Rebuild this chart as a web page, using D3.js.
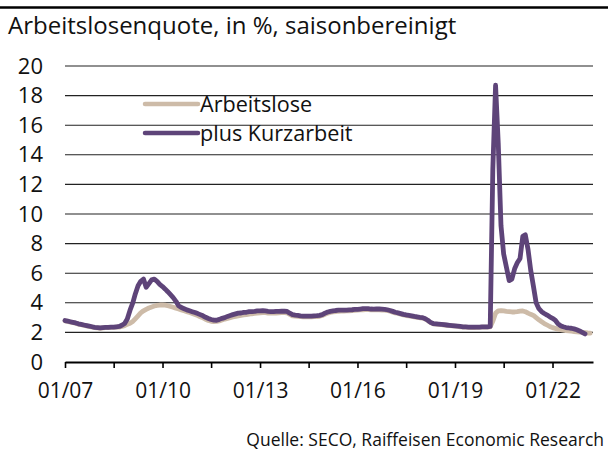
<!DOCTYPE html>
<html>
<head>
<meta charset="utf-8">
<script src="https://cdn.jsdelivr.net/npm/d3@7"></script>
<style>
  body { margin: 0; background: #fff; }
  svg { display: block; font-family: "Open Sans", "Noto Sans", sans-serif; }
</style>
</head>
<body>
<div id="chart"></div>
<script>
// monthly data, first value = Jan 2007
const startMonth = '2007-01';

const arbeitslose = [
  2.78, 2.74, 2.70, 2.66, 2.62, 2.56, 2.52, 2.48, 2.44, 2.40, 2.36, 2.32,
  2.30, 2.28, 2.30, 2.32, 2.32, 2.34, 2.34, 2.35, 2.36, 2.40, 2.46, 2.54,
  2.62, 2.74, 2.92, 3.12, 3.32, 3.46, 3.56, 3.65, 3.72, 3.78, 3.83, 3.85,
  3.86, 3.84, 3.80, 3.75, 3.70, 3.63, 3.58, 3.52, 3.46, 3.40, 3.34, 3.28,
  3.21, 3.14, 3.06, 2.98, 2.89, 2.80, 2.75, 2.73, 2.74, 2.78, 2.84, 2.90,
  2.95, 3.00, 3.04, 3.08, 3.12, 3.15, 3.18, 3.20, 3.23, 3.26, 3.28, 3.30,
  3.32, 3.34, 3.33, 3.31, 3.30, 3.30, 3.31, 3.32, 3.33, 3.33, 3.32, 3.22,
  3.12, 3.10, 3.08, 3.06, 3.05, 3.05, 3.05, 3.05, 3.06, 3.07, 3.09, 3.14,
  3.22, 3.30, 3.35, 3.38, 3.41, 3.43, 3.44, 3.44, 3.45, 3.46, 3.47, 3.49,
  3.50, 3.52, 3.53, 3.54, 3.54, 3.53, 3.52, 3.52, 3.52, 3.51, 3.50, 3.48,
  3.43, 3.37, 3.32, 3.28, 3.23, 3.18, 3.14, 3.11, 3.08, 3.05, 3.02, 2.99,
  2.97, 2.90, 2.80, 2.66, 2.58, 2.56, 2.54, 2.52, 2.50, 2.48, 2.46, 2.44,
  2.42, 2.40, 2.38, 2.36, 2.35, 2.34, 2.33, 2.33, 2.34, 2.34, 2.35, 2.36,
  2.36, 2.38, 2.75, 3.30, 3.45, 3.47, 3.45, 3.42, 3.40, 3.38, 3.38, 3.40,
  3.43, 3.45, 3.40, 3.30, 3.22, 3.15, 3.00, 2.85, 2.72, 2.60, 2.50, 2.40,
  2.32, 2.27, 2.22, 2.18, 2.15, 2.12, 2.10, 2.08, 2.06, 2.04, 2.02, 2.00,
  1.98, 1.96, 1.95
];

const plusKurzarbeit = [
  2.80, 2.76, 2.72, 2.68, 2.64, 2.58, 2.54, 2.50, 2.46, 2.42, 2.38, 2.34,
  2.32, 2.30, 2.32, 2.34, 2.34, 2.36, 2.36, 2.38, 2.40, 2.48, 2.60, 2.90,
  3.50, 4.00, 4.60, 5.15, 5.45, 5.60, 5.05, 5.30, 5.55, 5.60, 5.45, 5.25,
  5.10, 4.92, 4.75, 4.55, 4.35, 4.10, 3.80, 3.68, 3.60, 3.52, 3.46, 3.40,
  3.34, 3.27, 3.20, 3.12, 3.02, 2.94, 2.87, 2.83, 2.82, 2.88, 2.95, 3.00,
  3.08, 3.14, 3.20, 3.25, 3.30, 3.31, 3.35, 3.36, 3.40, 3.41, 3.42, 3.45,
  3.45, 3.47, 3.45, 3.42, 3.40, 3.40, 3.42, 3.42, 3.43, 3.44, 3.42, 3.30,
  3.20, 3.17, 3.15, 3.12, 3.10, 3.10, 3.10, 3.10, 3.12, 3.13, 3.15, 3.20,
  3.30, 3.38, 3.42, 3.45, 3.48, 3.50, 3.50, 3.50, 3.50, 3.52, 3.53, 3.55,
  3.56, 3.58, 3.60, 3.60, 3.60, 3.58, 3.57, 3.58, 3.58, 3.57, 3.56, 3.53,
  3.48, 3.42, 3.36, 3.32, 3.27, 3.22, 3.18, 3.15, 3.12, 3.08, 3.05, 3.02,
  3.00, 2.92, 2.82, 2.68, 2.60, 2.58, 2.56, 2.54, 2.52, 2.50, 2.48, 2.46,
  2.44, 2.42, 2.40, 2.38, 2.37, 2.36, 2.35, 2.35, 2.36, 2.36, 2.37, 2.38,
  2.38, 2.40, 13.0, 18.7, 14.8, 9.20, 7.30, 6.40, 5.50, 5.60, 6.30, 6.70,
  7.00, 8.50, 8.60, 7.60, 6.20, 5.10, 4.00, 3.60, 3.40, 3.28, 3.17, 3.05,
  2.95, 2.82, 2.60, 2.45, 2.38, 2.33, 2.30, 2.28, 2.24, 2.18, 2.10, 2.00,
  1.90
];

const seriesNames = ['Arbeitslose', 'plus Kurzarbeit'];
const yTicks = [0, 2, 4, 6, 8, 10, 12, 14, 16, 18, 20];
const xTickLabels = ['01/07', '', '01/10', '', '01/13', '', '01/16', '', '01/19', '', '01/22'];

const title = 'Arbeitslosenquote, in %, saisonbereinigt';
const source = 'Quelle: SECO, Raiffeisen Economic Research';

const colors = ['#cdbba8', '#5e4479'];

const w = 608, h = 453;
const plotLeft = 65, plotRight = 593, plotTop = 66, plotBottom = 362;

const parseMonth = d3.timeParse('%Y-%m');
const start = parseMonth(startMonth);
const monthDate = i => d3.timeMonth.offset(start, i);

const xScale = d3.scaleTime()
  .domain([start, d3.timeMonth.offset(start, 195)])
  .range([plotLeft, plotRight]);
const yScale = d3.scaleLinear().domain([0, 20]).range([plotBottom, plotTop]);

const svg = d3.select('#chart').append('svg')
  .attr('width', w).attr('height', h);

// top rule
svg.append('line')
  .attr('x1', 0).attr('x2', w).attr('y1', 7.5).attr('y2', 7.5)
  .attr('stroke', '#000').attr('stroke-width', 2.5);

svg.append('text')
  .attr('x', 8).attr('y', 34)
  .attr('font-size', 24).attr('fill', '#111')
  .text(title);

// grid
svg.append('g').selectAll('line')
  .data(yTicks.filter(d => d > 0))
  .enter().append('line')
  .attr('x1', plotLeft).attr('x2', plotRight)
  .attr('y1', d => yScale(d)).attr('y2', d => yScale(d))
  .attr('stroke', '#222').attr('stroke-width', 1.1);

// y axis labels
const yAxis = d3.axisLeft(yScale).tickValues(yTicks).tickSize(0).tickPadding(22);
svg.append('g')
  .attr('transform', `translate(${plotLeft},0)`)
  .call(yAxis)
  .call(g => g.select('.domain').remove())
  .call(g => g.selectAll('text')
    .attr('font-family', '"Open Sans", sans-serif')
    .attr('font-size', 22).attr('fill', '#111'));

// x axis
const xTicks = xTickLabels.map((d, i) => monthDate(i * 18));
const xAxis = d3.axisBottom(xScale)
  .tickValues(xTicks)
  .tickSize(6)
  .tickSizeOuter(0)
  .tickPadding(15)
  .tickFormat((d, i) => xTickLabels[i]);
svg.append('g')
  .attr('transform', `translate(0,${plotBottom})`)
  .call(xAxis)
  .call(g => g.select('.domain').attr('stroke', '#000').attr('stroke-width', 2.2))
  .call(g => g.selectAll('.tick line').attr('stroke', '#000').attr('stroke-width', 1.6))
  .call(g => g.selectAll('text')
    .attr('font-family', '"Open Sans", sans-serif')
    .attr('font-size', 21).attr('fill', '#111'));

// lines
const line = d3.line()
  .x((d, i) => xScale(monthDate(i)))
  .y(d => yScale(d));

[arbeitslose, plusKurzarbeit].forEach((data, k) => {
  svg.append('path')
    .datum(data)
    .attr('fill', 'none')
    .attr('stroke', colors[k])
    .attr('stroke-width', 4.8)
    .attr('stroke-linejoin', 'round')
    .attr('stroke-linecap', 'round')
    .attr('d', line);
});

// legend
const legend = svg.append('g');
seriesNames.forEach((name, k) => {
  const y = 104 + k * 29;
  legend.append('line')
    .attr('x1', 145).attr('x2', 198).attr('y1', y).attr('y2', y)
    .attr('stroke', colors[k]).attr('stroke-width', 4.5)
    .attr('stroke-linecap', 'round');
  legend.append('text')
    .attr('x', 200).attr('y', y + 7.5)
    .attr('font-size', 21.6).attr('fill', '#111')
    .text(name);
});

svg.append('text')
  .attr('x', 604).attr('y', 446)
  .attr('text-anchor', 'end')
  .attr('font-size', 17.5).attr('fill', '#111')
  .text(source);
</script>
</body>
</html>
